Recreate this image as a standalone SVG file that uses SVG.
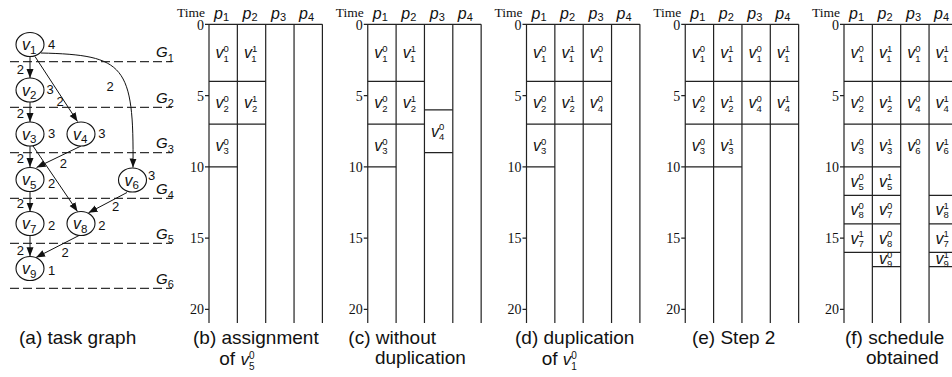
<svg xmlns="http://www.w3.org/2000/svg" width="952" height="377" viewBox="0 0 952 377">
<style>
.ln{stroke:#222;stroke-width:1.2;fill:none}
.nd{stroke:#111;stroke-width:1.1;fill:#fff}
.ed{stroke:#111;stroke-width:1;fill:none}
.gd{stroke:#333;stroke-width:1.2;stroke-dasharray:9 4;fill:none}
.sans{font-family:"Liberation Sans",Arial,sans-serif;fill:#111}
.ser{font-family:"Liberation Serif","Times New Roman",serif;fill:#111}
.it{font-style:italic}
.cl{font-family:"Liberation Sans",Arial,sans-serif;font-size:16px;fill:#111}
.sm{font-size:9.5px;font-style:normal}
.cs{font-size:10px;font-style:normal}
.gs{font-size:11px;font-style:normal}
.wt{font-family:"Liberation Sans",Arial,sans-serif;font-size:13px;fill:#111}
.el{font-family:"Liberation Sans",Arial,sans-serif;font-size:13px;fill:#111;text-anchor:middle}
.tk{font-family:"Liberation Serif","Times New Roman",serif;font-size:14px;fill:#111;text-anchor:end}
.hd{font-family:"Liberation Sans",Arial,sans-serif;font-size:16px;fill:#111;text-anchor:middle}
.cap{font-family:"Liberation Sans",Arial,sans-serif;font-size:19px;fill:#111}
</style>
<defs>
<marker id="ar" markerUnits="userSpaceOnUse" markerWidth="10" markerHeight="8" refX="9" refY="3.5" orient="auto">
<path d="M0,0 L9,3.5 L0,7 z" fill="#111"/>
</marker>
</defs>

<!-- (a) task graph -->
<g id="groups">
<line class="gd" x1="10" y1="61.7" x2="172" y2="61.7"/>
<line class="gd" x1="10" y1="107.3" x2="172" y2="107.3"/>
<line class="gd" x1="10" y1="152.7" x2="172" y2="152.7"/>
<line class="gd" x1="10" y1="198.3" x2="172" y2="198.3"/>
<line class="gd" x1="10" y1="243.3" x2="172" y2="243.3"/>
<line class="gd" x1="10" y1="288.3" x2="172" y2="288.3"/>
<text class="sans it" x="156" y="57" font-size="15">G<tspan class="gs" dy="4.5">1</tspan></text>
<text class="sans it" x="156" y="102.6" font-size="15">G<tspan class="gs" dy="4.5">2</tspan></text>
<text class="sans it" x="156" y="148" font-size="15">G<tspan class="gs" dy="4.5">3</tspan></text>
<text class="sans it" x="156" y="194" font-size="15">G<tspan class="gs" dy="4.5">4</tspan></text>
<text class="sans it" x="156" y="238.6" font-size="15">G<tspan class="gs" dy="4.5">5</tspan></text>
<text class="sans it" x="156" y="283.6" font-size="15">G<tspan class="gs" dy="4.5">6</tspan></text>
</g>

<g id="edges">
<path class="ed" marker-end="url(#ar)" d="M30,56.5 L30,78"/>
<path class="ed" marker-end="url(#ar)" d="M30,102 L30,122"/>
<path class="ed" marker-end="url(#ar)" d="M30,146 L30,167"/>
<path class="ed" marker-end="url(#ar)" d="M30,191 L30,211.5"/>
<path class="ed" marker-end="url(#ar)" d="M30,235.5 L30,256.3"/>
<path class="ed" marker-end="url(#ar)" d="M35,56.5 L77.5,121.5"/>
<path class="ed" marker-end="url(#ar)" d="M41,53 C125,55 134,65 133,167.5"/>
<path class="ed" marker-end="url(#ar)" d="M33,146 L77.5,211.5"/>
<path class="ed" marker-end="url(#ar)" d="M81,146 L36.5,167.5"/>
<path class="ed" marker-end="url(#ar)" d="M127,192.5 L88.5,212.8"/>
<path class="ed" marker-end="url(#ar)" d="M79,235.5 L36,257.5"/>
<text class="el" x="20.3" y="73.5">2</text>
<text class="el" x="20.3" y="117.7">2</text>
<text class="el" x="20.3" y="162.7">2</text>
<text class="el" x="20.3" y="207.7">2</text>
<text class="el" x="20.3" y="255.2">2</text>
<text class="el" x="60" y="106.4">2</text>
<text class="el" x="110" y="91.4">2</text>
<text class="el" x="63.3" y="167.7">2</text>
<text class="el" x="115.5" y="211.4">2</text>
<text class="el" x="65" y="257">2</text>
</g>

<g id="v1"><ellipse class="nd" cx="30" cy="44.5" rx="14" ry="12"/><text class="cl" x="22" y="50"><tspan class="it">v</tspan><tspan font-size="11.5" dy="3.5">1</tspan></text><text class="wt" x="48" y="48.8">4</text></g>
<g id="v2"><ellipse class="nd" cx="30" cy="90" rx="14" ry="12"/><text class="cl" x="22" y="95.5"><tspan class="it">v</tspan><tspan font-size="11.5" dy="3.5">2</tspan></text><text class="wt" x="46.5" y="94.3">3</text></g>
<g id="v3"><ellipse class="nd" cx="30" cy="134" rx="14" ry="12"/><text class="cl" x="22" y="139.5"><tspan class="it">v</tspan><tspan font-size="11.5" dy="3.5">3</tspan></text><text class="wt" x="48" y="137.8">3</text></g>
<g id="v4"><ellipse class="nd" cx="81" cy="134" rx="14" ry="12"/><text class="cl" x="73" y="139.5"><tspan class="it">v</tspan><tspan font-size="11.5" dy="3.5">4</tspan></text><text class="wt" x="98.3" y="137.8">3</text></g>
<g id="v5"><ellipse class="nd" cx="30" cy="179.5" rx="14" ry="12"/><text class="cl" x="22" y="185"><tspan class="it">v</tspan><tspan font-size="11.5" dy="3.5">5</tspan></text><text class="wt" x="48" y="187.8">2</text></g>
<g id="v6"><ellipse class="nd" cx="132.5" cy="180" rx="14" ry="12"/><text class="cl" x="124.5" y="185.5"><tspan class="it">v</tspan><tspan font-size="11.5" dy="3.5">6</tspan></text><text class="wt" x="148" y="180">3</text></g>
<g id="v7"><ellipse class="nd" cx="30" cy="223.5" rx="14" ry="12"/><text class="cl" x="22" y="229"><tspan class="it">v</tspan><tspan font-size="11.5" dy="3.5">7</tspan></text><text class="wt" x="48" y="230.3">2</text></g>
<g id="v8"><ellipse class="nd" cx="81" cy="223.5" rx="14" ry="12"/><text class="cl" x="73" y="229"><tspan class="it">v</tspan><tspan font-size="11.5" dy="3.5">8</tspan></text><text class="wt" x="98.3" y="230.3">2</text></g>
<g id="v9"><ellipse class="nd" cx="30" cy="268.5" rx="14" ry="12"/><text class="cl" x="22" y="274"><tspan class="it">v</tspan><tspan font-size="11.5" dy="3.5">9</tspan></text><text class="wt" x="48" y="275.3">1</text></g>

<text class="cap" x="19" y="344">(a) task graph</text>

<!-- common axis -->
<defs>
<g id="axis">
<text class="ser" x="-32" y="16.7" font-size="13.5">Time</text>
<text class="hd" x="12.5" y="18.5"><tspan class="it">p</tspan><tspan font-size="11" dy="2.5">1</tspan></text>
<text class="hd" x="41" y="18.5"><tspan class="it">p</tspan><tspan font-size="11" dy="2.5">2</tspan></text>
<text class="hd" x="69.5" y="18.5"><tspan class="it">p</tspan><tspan font-size="11" dy="2.5">3</tspan></text>
<text class="hd" x="97.5" y="18.5"><tspan class="it">p</tspan><tspan font-size="11" dy="2.5">4</tspan></text>
<text class="tk" x="-5" y="29.5">0</text>
<text class="tk" x="-5" y="100.5">5</text>
<text class="tk" x="-5" y="171.8">10</text>
<text class="tk" x="-5" y="243">15</text>
<text class="tk" x="-5" y="314.3">20</text>
<path class="ln" d="M-4,95.55 H0 M-4,238.05 H0 M-4,309.3 H0"/>
<path class="ln" d="M0,24.3 V323 M28.35,24.3 V323 M56.7,24.3 V323 M85.05,24.3 V323"/>
</g>
</defs>

<!-- (b) -->
<g id="panel-b" transform="translate(209,0)">
<use href="#axis"/>
<path class="ln" d="M113.4,24.3 V323 M-4,24.3 H113.4 M0,81.3 H56.7 M0,124.05 H56.7 M-4,166.8 H28.35"/>
<text class="cl" x="6.6" y="58.3"><tspan class="it">v</tspan><tspan class="sm" dy="-6.3">0</tspan><tspan class="sm" dx="-5.3" dy="9.6">1</tspan></text>
<text class="cl" x="6.6" y="108.2"><tspan class="it">v</tspan><tspan class="sm" dy="-6.3">0</tspan><tspan class="sm" dx="-5.3" dy="9.6">2</tspan></text>
<text class="cl" x="6.6" y="150.9"><tspan class="it">v</tspan><tspan class="sm" dy="-6.3">0</tspan><tspan class="sm" dx="-5.3" dy="9.6">3</tspan></text>
<text class="cl" x="34.9" y="58.3"><tspan class="it">v</tspan><tspan class="sm" dy="-6.3">1</tspan><tspan class="sm" dx="-5.3" dy="9.6">1</tspan></text>
<text class="cl" x="34.9" y="108.2"><tspan class="it">v</tspan><tspan class="sm" dy="-6.3">1</tspan><tspan class="sm" dx="-5.3" dy="9.6">2</tspan></text>
<text class="cap" x="-16" y="344">(b) assignment</text>
<text class="cap" x="10.3" y="365">of <tspan class="it" font-size="17">v</tspan><tspan class="cs" dy="-6">0</tspan><tspan class="cs" dx="-5.6" dy="10.5">5</tspan></text>
</g>

<!-- (c) -->
<g id="panel-c" transform="translate(367.75,0)">
<use href="#axis"/>
<path class="ln" d="M113.4,24.3 V323 M-4,24.3 H113.4 M0,81.3 H56.7 M0,124.05 H56.7 M-4,166.8 H28.35 M56.7,109.8 H85.05 M56.7,152.55 H85.05"/>
<text class="cl" x="6.6" y="58.3"><tspan class="it">v</tspan><tspan class="sm" dy="-6.3">0</tspan><tspan class="sm" dx="-5.3" dy="9.6">1</tspan></text>
<text class="cl" x="6.6" y="108.2"><tspan class="it">v</tspan><tspan class="sm" dy="-6.3">0</tspan><tspan class="sm" dx="-5.3" dy="9.6">2</tspan></text>
<text class="cl" x="6.6" y="150.9"><tspan class="it">v</tspan><tspan class="sm" dy="-6.3">0</tspan><tspan class="sm" dx="-5.3" dy="9.6">3</tspan></text>
<text class="cl" x="34.9" y="58.3"><tspan class="it">v</tspan><tspan class="sm" dy="-6.3">1</tspan><tspan class="sm" dx="-5.3" dy="9.6">1</tspan></text>
<text class="cl" x="34.9" y="108.2"><tspan class="it">v</tspan><tspan class="sm" dy="-6.3">1</tspan><tspan class="sm" dx="-5.3" dy="9.6">2</tspan></text>
<text class="cl" x="63.3" y="136.7"><tspan class="it">v</tspan><tspan class="sm" dy="-6.3">0</tspan><tspan class="sm" dx="-5.3" dy="9.6">4</tspan></text>
<text class="cap" x="-19.4" y="344">(c) without</text>
<text class="cap" x="7.2" y="364">duplication</text>
</g>

<!-- (d) -->
<g id="panel-d" transform="translate(526.5,0)">
<use href="#axis"/>
<path class="ln" d="M113.4,24.3 V323 M-4,24.3 H113.4 M0,81.3 H85.05 M0,124.05 H85.05 M-4,166.8 H28.35"/>
<text class="cl" x="6.6" y="58.3"><tspan class="it">v</tspan><tspan class="sm" dy="-6.3">0</tspan><tspan class="sm" dx="-5.3" dy="9.6">1</tspan></text>
<text class="cl" x="6.6" y="108.2"><tspan class="it">v</tspan><tspan class="sm" dy="-6.3">0</tspan><tspan class="sm" dx="-5.3" dy="9.6">2</tspan></text>
<text class="cl" x="6.6" y="150.9"><tspan class="it">v</tspan><tspan class="sm" dy="-6.3">0</tspan><tspan class="sm" dx="-5.3" dy="9.6">3</tspan></text>
<text class="cl" x="34.9" y="58.3"><tspan class="it">v</tspan><tspan class="sm" dy="-6.3">1</tspan><tspan class="sm" dx="-5.3" dy="9.6">1</tspan></text>
<text class="cl" x="34.9" y="108.2"><tspan class="it">v</tspan><tspan class="sm" dy="-6.3">1</tspan><tspan class="sm" dx="-5.3" dy="9.6">2</tspan></text>
<text class="cl" x="63.3" y="58.3"><tspan class="it">v</tspan><tspan class="sm" dy="-6.3">0</tspan><tspan class="sm" dx="-5.3" dy="9.6">1</tspan></text>
<text class="cl" x="63.3" y="108.2"><tspan class="it">v</tspan><tspan class="sm" dy="-6.3">0</tspan><tspan class="sm" dx="-5.3" dy="9.6">4</tspan></text>
<text class="cap" x="-11.5" y="344">(d) duplication</text>
<text class="cap" x="15.2" y="365">of <tspan class="it" font-size="17">v</tspan><tspan class="cs" dy="-6">0</tspan><tspan class="cs" dx="-5.6" dy="10.5">1</tspan></text>
</g>

<!-- (e) -->
<g id="panel-e" transform="translate(685.25,0)">
<use href="#axis"/>
<path class="ln" d="M113.4,24.3 V323 M-4,24.3 H113.4 M0,81.3 H113.4 M0,124.05 H113.4 M-4,166.8 H56.7"/>
<text class="cl" x="6.6" y="58.3"><tspan class="it">v</tspan><tspan class="sm" dy="-6.3">0</tspan><tspan class="sm" dx="-5.3" dy="9.6">1</tspan></text>
<text class="cl" x="6.6" y="108.2"><tspan class="it">v</tspan><tspan class="sm" dy="-6.3">0</tspan><tspan class="sm" dx="-5.3" dy="9.6">2</tspan></text>
<text class="cl" x="6.6" y="150.9"><tspan class="it">v</tspan><tspan class="sm" dy="-6.3">0</tspan><tspan class="sm" dx="-5.3" dy="9.6">3</tspan></text>
<text class="cl" x="34.9" y="58.3"><tspan class="it">v</tspan><tspan class="sm" dy="-6.3">1</tspan><tspan class="sm" dx="-5.3" dy="9.6">1</tspan></text>
<text class="cl" x="34.9" y="108.2"><tspan class="it">v</tspan><tspan class="sm" dy="-6.3">1</tspan><tspan class="sm" dx="-5.3" dy="9.6">2</tspan></text>
<text class="cl" x="34.9" y="150.9"><tspan class="it">v</tspan><tspan class="sm" dy="-6.3">1</tspan><tspan class="sm" dx="-5.3" dy="9.6">3</tspan></text>
<text class="cl" x="63.3" y="58.3"><tspan class="it">v</tspan><tspan class="sm" dy="-6.3">0</tspan><tspan class="sm" dx="-5.3" dy="9.6">1</tspan></text>
<text class="cl" x="63.3" y="108.2"><tspan class="it">v</tspan><tspan class="sm" dy="-6.3">0</tspan><tspan class="sm" dx="-5.3" dy="9.6">4</tspan></text>
<text class="cl" x="91.6" y="58.3"><tspan class="it">v</tspan><tspan class="sm" dy="-6.3">1</tspan><tspan class="sm" dx="-5.3" dy="9.6">1</tspan></text>
<text class="cl" x="91.6" y="108.2"><tspan class="it">v</tspan><tspan class="sm" dy="-6.3">1</tspan><tspan class="sm" dx="-5.3" dy="9.6">4</tspan></text>
<text class="cap" x="6.7" y="344">(e) Step 2</text>
</g>

<!-- (f) -->
<g id="panel-f" transform="translate(844,0)">
<use href="#axis"/>
<path class="ln" d="M-4,24.3 H108 M0,81.3 H108 M0,124.05 H108 M-4,166.8 H56.7 M0,195.3 H56.7 M0,223.8 H56.7 M0,252.3 H56.7 M28.35,266.55 H56.7 M85.05,195.3 H108 M85.05,223.8 H108 M85.05,252.3 H108 M85.05,266.55 H108"/>
<text class="cl" x="6.6" y="58.3"><tspan class="it">v</tspan><tspan class="sm" dy="-6.3">0</tspan><tspan class="sm" dx="-5.3" dy="9.6">1</tspan></text>
<text class="cl" x="6.6" y="108.2"><tspan class="it">v</tspan><tspan class="sm" dy="-6.3">0</tspan><tspan class="sm" dx="-5.3" dy="9.6">2</tspan></text>
<text class="cl" x="6.6" y="150.9"><tspan class="it">v</tspan><tspan class="sm" dy="-6.3">0</tspan><tspan class="sm" dx="-5.3" dy="9.6">3</tspan></text>
<text class="cl" x="6.6" y="186.6"><tspan class="it">v</tspan><tspan class="sm" dy="-6.3">0</tspan><tspan class="sm" dx="-5.3" dy="9.6">5</tspan></text>
<text class="cl" x="6.6" y="215.1"><tspan class="it">v</tspan><tspan class="sm" dy="-6.3">0</tspan><tspan class="sm" dx="-5.3" dy="9.6">8</tspan></text>
<text class="cl" x="6.6" y="243.6"><tspan class="it">v</tspan><tspan class="sm" dy="-6.3">1</tspan><tspan class="sm" dx="-5.3" dy="9.6">7</tspan></text>
<text class="cl" x="34.9" y="58.3"><tspan class="it">v</tspan><tspan class="sm" dy="-6.3">1</tspan><tspan class="sm" dx="-5.3" dy="9.6">1</tspan></text>
<text class="cl" x="34.9" y="108.2"><tspan class="it">v</tspan><tspan class="sm" dy="-6.3">1</tspan><tspan class="sm" dx="-5.3" dy="9.6">2</tspan></text>
<text class="cl" x="34.9" y="150.9"><tspan class="it">v</tspan><tspan class="sm" dy="-6.3">1</tspan><tspan class="sm" dx="-5.3" dy="9.6">3</tspan></text>
<text class="cl" x="34.9" y="186.6"><tspan class="it">v</tspan><tspan class="sm" dy="-6.3">1</tspan><tspan class="sm" dx="-5.3" dy="9.6">5</tspan></text>
<text class="cl" x="34.9" y="215.1"><tspan class="it">v</tspan><tspan class="sm" dy="-6.3">0</tspan><tspan class="sm" dx="-5.3" dy="9.6">7</tspan></text>
<text class="cl" x="34.9" y="243.6"><tspan class="it">v</tspan><tspan class="sm" dy="-6.3">0</tspan><tspan class="sm" dx="-5.3" dy="9.6">8</tspan></text>
<text class="cl" x="34.9" y="263.8"><tspan class="it">v</tspan><tspan class="sm" dy="-6.3">0</tspan><tspan class="sm" dx="-5.3" dy="9.6">9</tspan></text>
<text class="cl" x="63.3" y="58.3"><tspan class="it">v</tspan><tspan class="sm" dy="-6.3">0</tspan><tspan class="sm" dx="-5.3" dy="9.6">1</tspan></text>
<text class="cl" x="63.3" y="108.2"><tspan class="it">v</tspan><tspan class="sm" dy="-6.3">0</tspan><tspan class="sm" dx="-5.3" dy="9.6">4</tspan></text>
<text class="cl" x="63.3" y="150.9"><tspan class="it">v</tspan><tspan class="sm" dy="-6.3">0</tspan><tspan class="sm" dx="-5.3" dy="9.6">6</tspan></text>
<text class="cl" x="91.6" y="58.3"><tspan class="it">v</tspan><tspan class="sm" dy="-6.3">1</tspan><tspan class="sm" dx="-5.3" dy="9.6">1</tspan></text>
<text class="cl" x="91.6" y="108.2"><tspan class="it">v</tspan><tspan class="sm" dy="-6.3">1</tspan><tspan class="sm" dx="-5.3" dy="9.6">4</tspan></text>
<text class="cl" x="91.6" y="150.9"><tspan class="it">v</tspan><tspan class="sm" dy="-6.3">1</tspan><tspan class="sm" dx="-5.3" dy="9.6">6</tspan></text>
<text class="cl" x="91.6" y="215.1"><tspan class="it">v</tspan><tspan class="sm" dy="-6.3">1</tspan><tspan class="sm" dx="-5.3" dy="9.6">8</tspan></text>
<text class="cl" x="91.6" y="243.6"><tspan class="it">v</tspan><tspan class="sm" dy="-6.3">1</tspan><tspan class="sm" dx="-5.3" dy="9.6">7</tspan></text>
<text class="cl" x="91.6" y="263.8"><tspan class="it">v</tspan><tspan class="sm" dy="-6.3">1</tspan><tspan class="sm" dx="-5.3" dy="9.6">9</tspan></text>
<text class="cap" x="1" y="344">(f) schedule</text>
<text class="cap" x="22" y="364">obtained</text>
</g>
</svg>
